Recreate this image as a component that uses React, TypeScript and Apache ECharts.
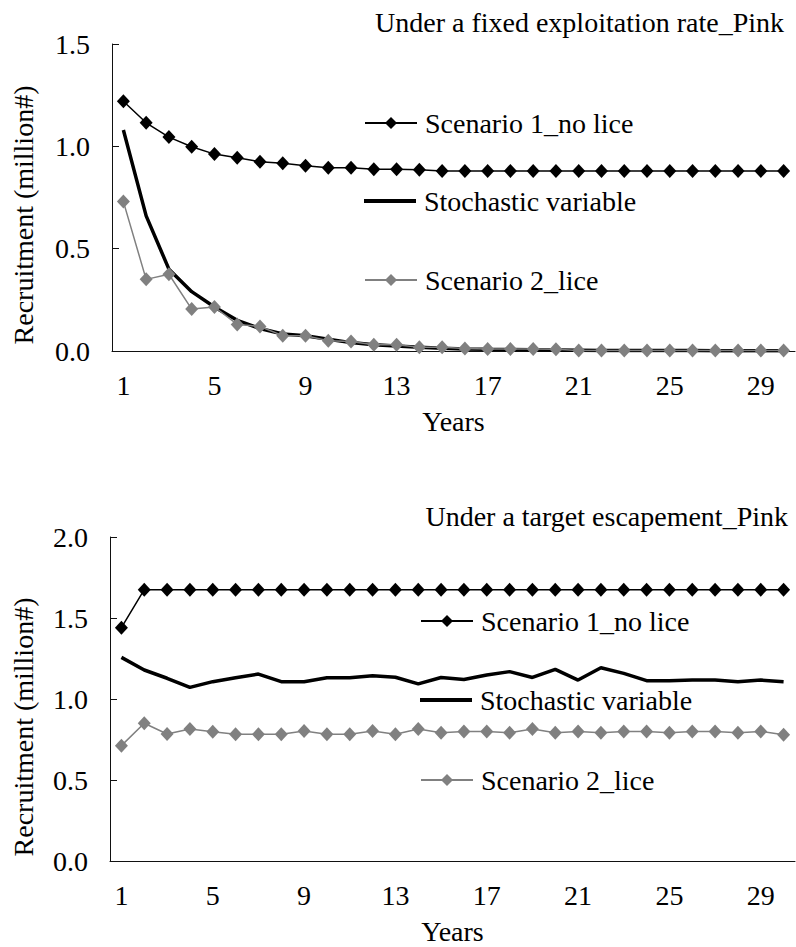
import React, { useEffect, useRef } from "react";
import * as echarts from "echarts";

const years = ["1","2","3","4","5","6","7","8","9","10","11","12","13","14","15","16","17","18","19","20","21","22","23","24","25","26","27","28","29","30"];

// Top panel: fixed exploitation rate
const s1Top = [1.22, 1.115, 1.045, 0.998, 0.962, 0.944, 0.925, 0.917, 0.905, 0.895, 0.895, 0.888, 0.888, 0.885, 0.88, 0.88, 0.88, 0.88, 0.88, 0.88, 0.88, 0.88, 0.88, 0.88, 0.88, 0.88, 0.88, 0.88, 0.88, 0.88];
const stochTop = [1.08, 0.66, 0.40, 0.29, 0.215, 0.15, 0.11, 0.083, 0.075, 0.057, 0.041, 0.03, 0.024, 0.018, 0.013, 0.01, 0.008, 0.007, 0.006, 0.005, 0.004, 0.003, 0.003, 0.002, 0.002, 0.002, 0.001, 0.001, 0.001, 0.001];
const s2Top = [0.73, 0.35, 0.375, 0.205, 0.215, 0.13, 0.12, 0.075, 0.075, 0.05, 0.046, 0.03, 0.03, 0.018, 0.018, 0.012, 0.01, 0.01, 0.01, 0.008, 0.003, 0.003, 0.003, 0.002, 0.002, 0.002, 0.002, 0.002, 0.002, 0.002];

// Bottom panel: target escapement
const s1Bot = [1.44, 1.675, 1.675, 1.675, 1.675, 1.675, 1.675, 1.675, 1.675, 1.675, 1.675, 1.675, 1.675, 1.675, 1.675, 1.675, 1.675, 1.675, 1.675, 1.675, 1.675, 1.675, 1.675, 1.675, 1.675, 1.675, 1.675, 1.675, 1.675, 1.675];
const stochBot = [1.257, 1.179, 1.128, 1.072, 1.107, 1.131, 1.154, 1.107, 1.107, 1.131, 1.131, 1.144, 1.134, 1.093, 1.133, 1.12, 1.148, 1.169, 1.133, 1.183, 1.117, 1.193, 1.158, 1.113, 1.113, 1.117, 1.117, 1.107, 1.117, 1.107];
const s2Bot = [0.712, 0.85, 0.784, 0.815, 0.798, 0.782, 0.782, 0.782, 0.802, 0.782, 0.782, 0.802, 0.782, 0.815, 0.792, 0.8, 0.8, 0.792, 0.815, 0.792, 0.8, 0.792, 0.8, 0.8, 0.792, 0.8, 0.8, 0.792, 0.8, 0.78];

const titles = ["Under a fixed exploitation rate_Pink", "Under a target escapement_Pink"];
const names = ["Scenario 1_no lice", "Stochastic variable", "Scenario 2_lice"];
const yName = "Recruitment (million#)";
const xName = "Years";

const FONT = "Times New Roman, Liberation Serif, serif";
const FS = 28;
const GRAY = "#808080";

export default function App() {
  const ref = useRef<HTMLDivElement>(null);
  useEffect(() => {
    if (!ref.current) return;
    const chart = echarts.init(ref.current, null, { renderer: "svg" });
    const txt = { fontFamily: FONT, fontSize: FS, color: "#000" };

    const xAxisBase = (gi: number) => ({
      type: "category",
      gridIndex: gi,
      data: years,
      boundaryGap: true,
      axisLine: { lineStyle: { color: "#111", width: 1 } },
      axisTick: { inside: true, length: 7, interval: 3, lineStyle: { color: "#111" } },
      axisLabel: { interval: 3, margin: 20, ...txt },
      name: xName,
      nameLocation: "middle",
      nameGap: 56,
      nameTextStyle: { ...txt },
      splitLine: { show: false },
    });
    const yAxisBase = (gi: number, max: number) => ({
      type: "value",
      gridIndex: gi,
      min: 0,
      max,
      interval: 0.5,
      axisLine: { show: true, lineStyle: { color: "#111", width: 1 } },
      axisTick: { show: true, inside: true, length: 7, lineStyle: { color: "#111" } },
      axisLabel: { margin: 22, formatter: (v: number) => v.toFixed(1), ...txt },
      splitLine: { show: false },
    });

    const mkSeries = (gi: number, a: number[], b: number[], c: number[]) => [
      {
        name: names[0], type: "line", xAxisIndex: gi, yAxisIndex: gi, data: a,
        symbol: "diamond", symbolSize: [13, 14], showSymbol: true,
        lineStyle: { color: "#000", width: 1.5 }, itemStyle: { color: "#000" }, z: 3,
      },
      {
        name: names[1], type: "line", xAxisIndex: gi, yAxisIndex: gi, data: b,
        symbol: "none", showSymbol: false,
        lineStyle: { color: "#000", width: 3.5 }, itemStyle: { color: "#000" }, z: 2,
      },
      {
        name: names[2], type: "line", xAxisIndex: gi, yAxisIndex: gi, data: c,
        symbol: "diamond", symbolSize: [13, 14], showSymbol: true,
        lineStyle: { color: GRAY, width: 1.5 }, itemStyle: { color: GRAY }, z: 4,
      },
    ];

    const legendAt = (name: string, left: number, centerY: number, isLine: boolean) => ({
      data: [name],
      left,
      top: centerY - 16,
      padding: 0,
      itemWidth: 52,
      itemHeight: isLine ? 4 : 15,
      icon: isLine ? "rect" : undefined,
      itemGap: 0,
      selectedMode: false,
      textStyle: { ...txt, padding: [0, 0, 0, 3] },
    });

    chart.setOption({
      animation: false,
      backgroundColor: "#fff",
      textStyle: { fontFamily: FONT },
      title: [
        { text: titles[0], right: 12, top: 8, padding: 0, textStyle: { ...txt, fontWeight: "normal" } },
        { text: titles[1], right: 8, top: 502, padding: 0, textStyle: { ...txt, fontWeight: "normal" } },
      ],
      grid: [
        { left: 112, top: 44, width: 683, height: 307, containLabel: false },
        { left: 110, top: 537, width: 685, height: 324, containLabel: false },
      ],
      xAxis: [xAxisBase(0), xAxisBase(1)],
      yAxis: [yAxisBase(0, 1.5), yAxisBase(1, 2.0)],
      legend: [
        legendAt(names[0], 364, 125, false),
        legendAt(names[1], 364, 203, true),
        legendAt(names[2], 364, 282, false),
        legendAt(names[0], 420, 623, false),
        legendAt(names[1], 420, 702, true),
        legendAt(names[2], 420, 782, false),
      ],
      graphic: [
        { type: "text", x: 23, y: 215, rotation: Math.PI / 2, style: { text: yName, fill: "#000", fontFamily: FONT, fontSize: FS, textAlign: "center", textVerticalAlign: "middle" } },
        { type: "text", x: 23, y: 727, rotation: Math.PI / 2, style: { text: yName, fill: "#000", fontFamily: FONT, fontSize: FS, textAlign: "center", textVerticalAlign: "middle" } },
      ],
      series: [...mkSeries(0, s1Top, stochTop, s2Top), ...mkSeries(1, s1Bot, stochBot, s2Bot)],
    });
    return () => chart.dispose();
  }, []);
  return <div ref={ref} style={{ position: "fixed", left: 0, top: 0, width: 796, height: 947, background: "#fff" }} />;
}
